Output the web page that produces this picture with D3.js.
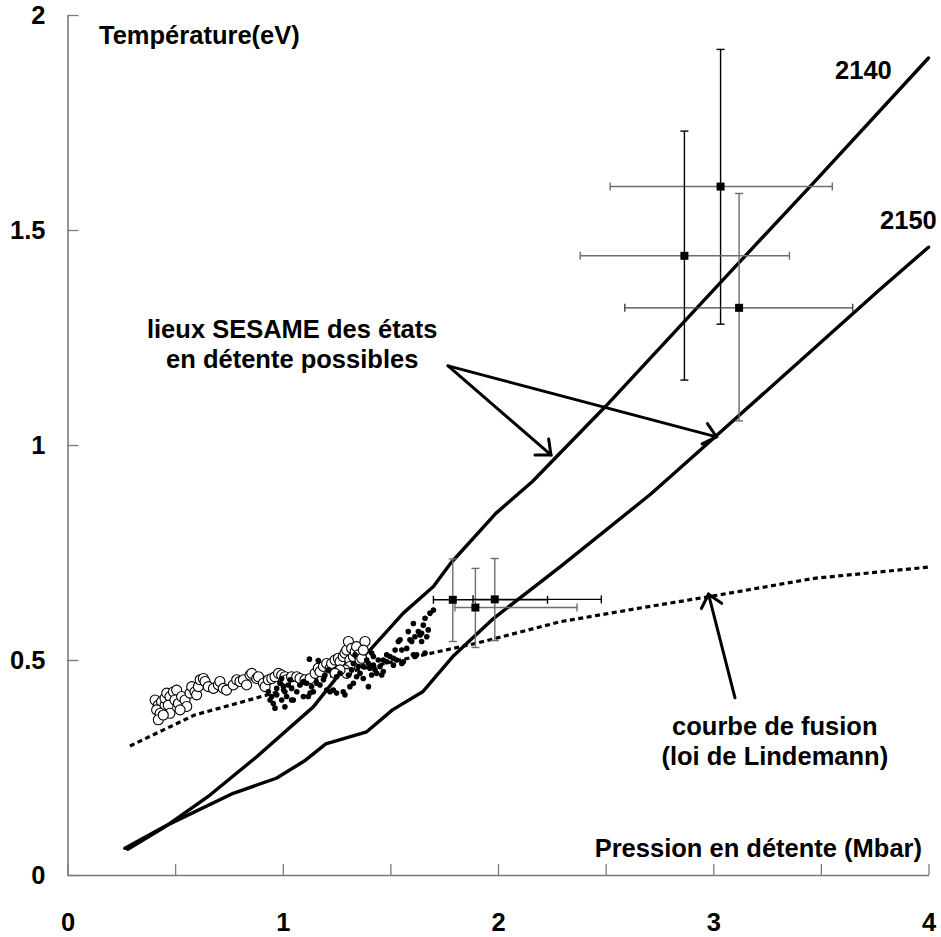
<!DOCTYPE html>
<html lang="fr">
<head>
    <meta charset="UTF-8" />
    <title>Température vs pression en détente</title>
    <script src="https://d3js.org/d3.v7.min.js"></script>
    <style>
        html, body { margin: 0; padding: 0; background: #fff; }
        svg text { font-family: "Liberation Sans", Arial, sans-serif; font-weight: bold; fill: #000; }
    </style>
</head>
<body>
    <div id="chart"></div>
    <script>
        // --- Data ---
        const xTicks = [0, 0.5, 1, 1.5, 2, 2.5, 3, 3.5, 4];
        const yTicks = [0, 0.5, 1, 1.5, 2];

        // SESAME isentropes (P in Mbar, T in eV)
        const curve2140 = [[0.267, 0.062], [0.476, 0.12], [0.662, 0.186], [0.879, 0.275], [1.142, 0.391],
            [1.266, 0.469], [1.405, 0.523], [1.56, 0.609], [1.70, 0.671], [1.78, 0.725], [1.99, 0.841],
            [2.16, 0.915], [2.5, 1.09], [3.03, 1.376], [3.47, 1.612], [4.0, 1.90]];
        const curve2150 = [[0.28, 0.06], [0.48, 0.12], [0.77, 0.19], [0.97, 0.225], [1.10, 0.265],
            [1.20, 0.305], [1.39, 0.333], [1.51, 0.384], [1.65, 0.426], [1.79, 0.508], [1.98, 0.597],
            [2.29, 0.717], [2.71, 0.886], [3.0, 1.015], [3.77, 1.36], [4.0, 1.46]];
        // Lindemann melting curve
        const fusionCurve = [[0.29, 0.30], [0.59, 0.372], [0.93, 0.419], [1.2, 0.46], [1.51, 0.496],
            [1.9, 0.539], [2.29, 0.589], [2.65, 0.62], [3.0, 0.649], [3.47, 0.69], [4.0, 0.716]];

        // open circles
        const openPts = [[0.407,0.407],[0.422,0.395],[0.437,0.403],[0.453,0.395],[0.414,0.384],[0.430,0.376],
            [0.422,0.361],[0.453,0.411],[0.461,0.423],[0.476,0.415],[0.468,0.395],[0.492,0.426],[0.507,0.430],
            [0.499,0.407],[0.515,0.399],[0.530,0.415],[0.546,0.407],[0.554,0.392],[0.523,0.384],[0.476,0.376],
            [0.445,0.372],[0.569,0.423],[0.577,0.438],[0.592,0.426],[0.600,0.419],[0.608,0.438],[0.616,0.454],
            [0.631,0.457],[0.639,0.450],[0.654,0.438],[0.678,0.434],[0.701,0.442],[0.708,0.450],[0.724,0.434],
            [0.739,0.430],[0.770,0.442],[0.786,0.454],[0.801,0.450],[0.817,0.454],[0.832,0.442],[0.848,0.465],
            [0.856,0.469],[0.879,0.457],[0.887,0.461],[0.910,0.446],[0.918,0.438],[0.933,0.454],[0.949,0.457],
            [0.964,0.461],[0.980,0.469],[0.995,0.465],[1.010,0.461],[1.018,0.454],[1.041,0.461],[1.065,0.461],
            [1.080,0.457],[1.103,0.454],[1.127,0.457],[1.150,0.469],[1.165,0.481],[1.173,0.473],[1.189,0.485],
            [1.204,0.492],[1.220,0.481],[1.227,0.492],[1.243,0.500],[1.258,0.504],[1.266,0.496],[1.281,0.508],
            [1.289,0.516],[1.297,0.523],[1.305,0.543],[1.312,0.500],[1.320,0.527],[1.328,0.508],[1.336,0.519],
            [1.343,0.531],[1.351,0.512],[1.359,0.500],[1.367,0.504],[1.382,0.543],[1.374,0.523],[1.312,0.485],
            [1.289,0.477],[1.297,0.469],[1.266,0.477],[1.243,0.469]];

        // small filled dots
        const dotPts = [[0.933,0.426],[0.949,0.415],[0.956,0.399],[0.964,0.388],[0.941,0.407],[0.972,0.434],
            [0.987,0.446],[0.995,0.457],[1.003,0.438],[1.010,0.426],[1.018,0.415],[1.026,0.442],[1.034,0.454],
            [1.041,0.434],[1.049,0.407],[1.065,0.426],[1.080,0.442],[1.096,0.450],[1.111,0.446],[1.119,0.415],
            [1.127,0.423],[1.142,0.426],[1.124,0.502],[1.165,0.499],[1.173,0.442],[1.189,0.454],[1.196,0.465],
            [1.212,0.477],[1.220,0.426],[1.235,0.430],[1.250,0.461],[1.266,0.469],[1.281,0.426],[1.289,0.419],
            [1.305,0.465],[1.320,0.477],[1.328,0.492],[1.336,0.512],[1.351,0.485],[1.359,0.469],[1.374,0.457],
            [1.390,0.500],[1.398,0.492],[1.405,0.481],[1.413,0.465],[1.398,0.438],[1.421,0.488],[1.429,0.477],
            [1.436,0.469],[1.444,0.500],[1.452,0.485],[1.460,0.465],[1.467,0.473],[1.413,0.516],[1.467,0.500],
            [1.483,0.496],[1.498,0.508],[1.514,0.504],[1.522,0.523],[1.529,0.500],[1.545,0.547],[1.553,0.492],
            [1.560,0.496],[1.576,0.527],[1.591,0.547],[1.599,0.543],[1.607,0.585],[1.614,0.508],[1.622,0.512],
            [1.630,0.566],[1.638,0.558],[1.645,0.562],[1.653,0.581],[1.661,0.597],[1.669,0.554],[1.676,0.570],
            [1.684,0.609],[1.700,0.616],[1.583,0.566],[1.614,0.554],[1.645,0.543],[1.661,0.516],[1.514,0.488],
            [1.537,0.543],[1.553,0.523],[1.607,0.512],[1.483,0.512],[1.421,0.508],[1.374,0.485],[1.343,0.461],
            [1.328,0.446],[1.312,0.438],[1.250,0.423],[1.204,0.430],[1.158,0.446],[1.134,0.438],[1.096,0.415],
            [1.041,0.407],[1.010,0.391],[0.995,0.407],[0.972,0.419]];

        // measurements with error bars
        const errP   = [1.79, 1.895, 1.985, 3.034, 2.866, 3.12];
        const errT   = [0.64, 0.622, 0.641, 1.601, 1.44, 1.319];
        const errPLo = [1.70, 1.80, 1.884, 2.521, 2.382, 2.589];
        const errPHi = [2.23, 2.367, 2.48, 3.553, 3.354, 3.648];
        const errTLo = [0.543, 0.529, 0.545, 1.281, 1.151, 1.056];
        const errTHi = [0.735, 0.713, 0.736, 1.92, 1.73, 1.585];

        // --- Layout ---
        const width = 941, height = 937;
        const fontSize = 25.5;
        const grey = "#6e6e6e";
        const hBarColor = ["#000", grey, "#000", grey, grey, "#444"];
        const vBarColor = [grey, grey, grey, "#000", "#000", grey];

        const x = d3.scaleLinear().domain([0, 4]).range([67.5, 928.5]);
        const y = d3.scaleLinear().domain([0, 2]).range([875, 15]);

        const svg = d3.select("#chart").append("svg")
            .attr("width", width)
            .attr("height", height);

        // Axes
        const xAxis = d3.axisBottom(x)
            .tickValues(xTicks)
            .tickSizeInner(-11)
            .tickSizeOuter(0)
            .tickPadding(38)
            .tickFormat(d => Number.isInteger(d) ? d : "");
        const yAxis = d3.axisLeft(y)
            .tickValues(yTicks)
            .tickSizeInner(-11)
            .tickSizeOuter(0)
            .tickPadding(22)
            .tickFormat(d => String(d));

        const gx = svg.append("g").attr("transform", `translate(0,${y(0)})`).call(xAxis);
        const gy = svg.append("g").attr("transform", `translate(${x(0)},0)`).call(yAxis);
        [gx, gy].forEach(g => {
            g.select(".domain").attr("stroke", "#7a7a7a").attr("stroke-width", 1.6);
            g.selectAll(".tick line").attr("stroke", "#7a7a7a").attr("stroke-width", 1.3);
            g.selectAll(".tick text")
                .attr("font-family", "Liberation Sans, Arial, sans-serif")
                .attr("font-weight", "bold")
                .attr("font-size", fontSize)
                .attr("fill", "#000");
        });

        svg.append("text").attr("x", 99).attr("y", 44).attr("font-size", fontSize)
            .text("Température(eV)");
        svg.append("text").attr("x", 922).attr("y", 857).attr("font-size", fontSize)
            .attr("text-anchor", "end").text("Pression en détente (Mbar)");

        // Curves
        const line = d3.line().x(d => x(d[0])).y(d => y(d[1]));
        svg.append("path").datum(fusionCurve).attr("d", line)
            .attr("fill", "none").attr("stroke", "#000").attr("stroke-width", 3.2)
            .attr("stroke-dasharray", "5,3.5");
        [curve2140, curve2150].forEach(c => {
            svg.append("path").datum(c).attr("d", line)
                .attr("fill", "none").attr("stroke", "#000").attr("stroke-width", 3.4)
                .attr("stroke-linejoin", "round").attr("stroke-linecap", "round");
        });

        // Scatter
        svg.append("g").selectAll("circle").data(openPts).join("circle")
            .attr("cx", d => x(d[0])).attr("cy", d => y(d[1])).attr("r", 5)
            .attr("fill", "#fff").attr("stroke", "#000").attr("stroke-width", 1.1);
        svg.append("g").selectAll("circle").data(dotPts).join("circle")
            .attr("cx", d => x(d[0])).attr("cy", d => y(d[1])).attr("r", 2.8)
            .attr("fill", "#000");

        // Error bars
        const cap = 4;
        const eb = svg.append("g").attr("stroke-width", 1.4);
        errP.forEach((p, i) => {
            const cx = x(p), cy = y(errT[i]);
            const x0 = x(errPLo[i]), x1 = x(errPHi[i]);
            const y0 = y(errTLo[i]), y1 = y(errTHi[i]);
            const hc = hBarColor[i], vc = vBarColor[i];
            eb.append("line").attr("x1", x0).attr("x2", x1).attr("y1", cy).attr("y2", cy).attr("stroke", hc);
            eb.append("line").attr("x1", x0).attr("x2", x0).attr("y1", cy - cap).attr("y2", cy + cap).attr("stroke", hc);
            eb.append("line").attr("x1", x1).attr("x2", x1).attr("y1", cy - cap).attr("y2", cy + cap).attr("stroke", hc);
            eb.append("line").attr("x1", cx).attr("x2", cx).attr("y1", y0).attr("y2", y1).attr("stroke", vc);
            eb.append("line").attr("x1", cx - cap).attr("x2", cx + cap).attr("y1", y0).attr("y2", y0).attr("stroke", vc);
            eb.append("line").attr("x1", cx - cap).attr("x2", cx + cap).attr("y1", y1).attr("y2", y1).attr("stroke", vc);
        });
        svg.append("g").selectAll("rect").data(errP).join("rect")
            .attr("x", (d) => x(d) - 4).attr("y", (d, i) => y(errT[i]) - 4)
            .attr("width", 8).attr("height", 8).attr("fill", "#000");

        // Annotations (positions in data units)
        const arrows = [
            { from: [1.768, 1.184], to: [2.246, 0.977] },
            { from: [1.768, 1.184], to: [3.015, 1.019] },
            { from: [3.101, 0.412], to: [2.978, 0.653] }
        ];
        const ag = svg.append("g").attr("stroke", "#000").attr("stroke-width", 3)
            .attr("fill", "none").attr("stroke-linecap", "round");
        arrows.forEach(a => {
            const sx = x(a.from[0]), sy = y(a.from[1]);
            const tx = x(a.to[0]), ty = y(a.to[1]);
            const ang = Math.atan2(sy - ty, sx - tx);
            const len = 16, spread = Math.PI / 4.4;
            ag.append("line").attr("x1", sx).attr("y1", sy).attr("x2", tx).attr("y2", ty);
            ag.append("path").attr("d",
                `M${tx + len * Math.cos(ang + spread)},${ty + len * Math.sin(ang + spread)}` +
                `L${tx},${ty}L${tx + len * Math.cos(ang - spread)},${ty + len * Math.sin(ang - spread)}`);
        });

        const notes = [
            { at: [1.044, 1.25], lines: ["lieux SESAME des états", "en détente possibles"], anchor: "middle" },
            { at: [3.286, 0.326], lines: ["courbe de fusion", "(loi de Lindemann)"], anchor: "middle" },
            { at: [3.566, 1.852], lines: ["2140"], anchor: "start" },
            { at: [3.775, 1.502], lines: ["2150"], anchor: "start" }
        ];
        notes.forEach(n => {
            const t = svg.append("text")
                .attr("x", x(n.at[0])).attr("y", y(n.at[1]))
                .attr("font-size", fontSize).attr("text-anchor", n.anchor);
            n.lines.forEach((s, k) => {
                t.append("tspan").attr("x", x(n.at[0])).attr("dy", k === 0 ? 0 : 30).text(s);
            });
        });
    </script>
</body>
</html>
